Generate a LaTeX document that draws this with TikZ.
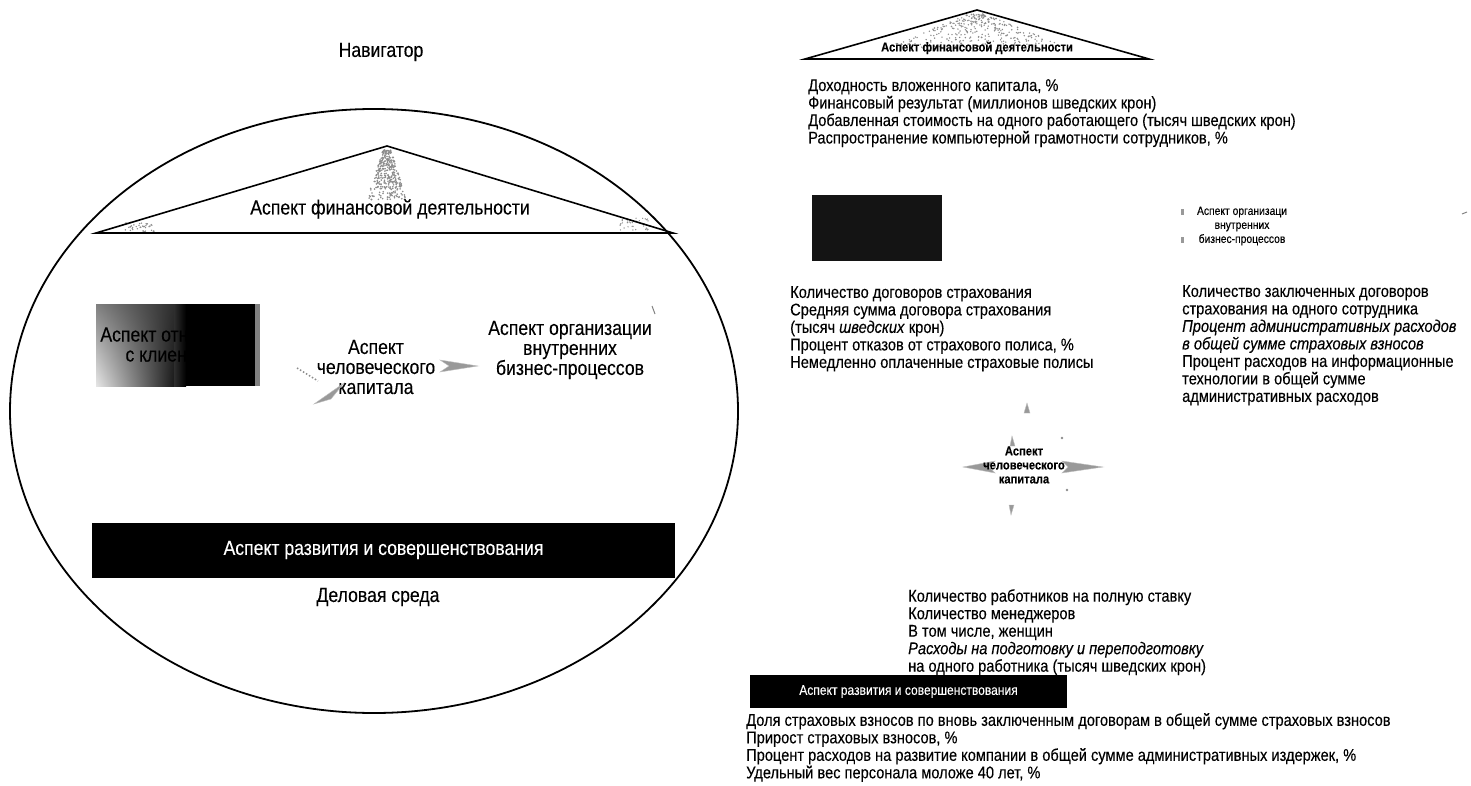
\documentclass[tikz,border=0pt]{standalone}
\usepackage{fontspec}
\usetikzlibrary{shadings}
\setmainfont{Liberation Sans}[FakeStretch=0.86, FakeBold=0.2]
\begin{document}
\begin{tikzpicture}[x=1pt,y=-1pt,
  txt/.style={font=\fontsize{17}{17.5}\selectfont, align=left, inner sep=0, anchor=north west},
  big/.style={font=\fontsize{20.5}{20}\selectfont, align=center, inner sep=0},
  small/.style={font=\fontsize{14}{14}\selectfont, align=center, inner sep=0},
  outline/.style={line width=1.6pt, line join=miter},
  speck/.style={fill=black!45},
  ghostarrow/.style={fill=black!40, draw=black!25, line width=0.4pt}]
\useasboundingbox (0,0) rectangle (1471,786);

% ---------------- left: the navigator scheme ----------------
\node[big] (nav) at (381,52) {Навигатор};
\draw[line width=1.8pt] (374,411) ellipse [x radius=364, y radius=302];

% roof: financial aspect
\pgfmathsetseed{11}
\foreach \k in {1,...,340}{
  \pgfmathsetmacro\t{rnd}
  \fill[speck] ({387+rand*(4+16*\t)},{150+50*\t}) circle (0.9);
}
\foreach \k in {1,...,40}{
  \fill[speck] ({125+30*rnd},{222+10*rnd}) circle (0.8);
  \fill[speck] ({620+30*rnd},{218+12*rnd}) circle (0.7);
}
\draw[outline] (96,233) -- (387,146) -- (673,233) -- cycle;
\node[big] (fin) at (390,209) {Аспект финансовой деятельности};

% customer aspect box, shaded from grey into black
\shade[upper left=black!50, lower left=black!10, upper right=black!82, lower right=black!90] (96,304) rectangle (174,386);
\shade[left color=black!82, right color=black] (174,304) rectangle (186,386);
\fill[black] (186,304) rectangle (255,386);
\fill[black!50] (255,304) rectangle (260,386);
\node[big, text=black] (cli) at (176,344) {Аспект отношений\\с клиентами};

% human capital aspect with its arrows
\node[big] (hum) at (376,367) {Аспект\\человеческого\\капитала};
\fill[ghostarrow] (314,404) -- (344,383) -- (331,399) -- cycle;
\draw[black!45, line width=1.5pt, dotted] (297,368) -- (318,381);
\fill[ghostarrow] (440,360) -- (478,366) -- (440,372) -- (449,366) -- cycle;
\draw[black!50, line width=1pt] (652,306) -- (655,314);

% internal processes aspect
\node[big] (org) at (570,350) {Аспект организации\\внутренних\\бизнес-процессов};

% development aspect bar
\node[big, fill=black, text=white, minimum width=583, minimum height=55] (dev) at (383.5,550) {Аспект развития и совершенствования};
\node[big] (env) at (378,597) {Деловая среда};

% ---------------- right: the indicators ----------------
\pgfmathsetseed{5}
\foreach \k in {1,...,320}{
  \pgfmathsetmacro\t{rnd}
  \fill[speck] ({977+rand*(8+85*\t)},{14+34*\t}) circle (0.8);
}
\draw[outline] (805,59) -- (977,10) -- (1149,59) -- cycle;
\node[small, font=\fontsize{13}{14}\selectfont\bfseries] (fin2) at (977,48) {Аспект финансовой деятельности};

\node[txt] (finlist) at (808,79) {Доходность вложенного капитала, \%\\
Финансовый результат (миллионов шведских крон)\\
Добавленная стоимость на одного работающего (тысяч шведских крон)\\
Распространение компьютерной грамотности сотрудников, \%};

\fill[black!92] (812,195) rectangle (942,261);
\node[txt] (clilist) at (790,286) {Количество договоров страхования\\
Средняя сумма договора страхования\\
(тысяч \textit{шведских} крон)\\
Процент отказов от страхового полиса, \%\\
Немедленно оплаченные страховые полисы};

\node[small, font=\fontsize{12}{14}\selectfont] (org2) at (1242,226) {Аспект организаци\\внутренних\\бизнес-процессов};
\fill[black!40] (1181,209) rectangle (1184,215);
\fill[black!40] (1181,237) rectangle (1184,243);
\draw[black!50, line width=1pt] (1462,214) -- (1467,212);
\node[txt] (orglist) at (1182,285) {Количество заключенных договоров\\
страхования на одного сотрудника\\
\textit{Процент административных расходов}\\
\textit{в общей сумме страховых взносов}\\
Процент расходов на информационные\\
технологии в общей сумме\\
административных расходов};

% human capital star
\fill[ghostarrow] (963,467) -- (995,461) -- (989,467) -- (995,473) -- cycle;
\fill[ghostarrow] (1103,467) -- (1062,461) -- (1068,467) -- (1062,473) -- cycle;
\node[small, font=\fontsize{13}{14}\selectfont\bfseries] (hum2) at (1024,465) {Аспект\\человеческого\\капитала};
\fill[ghostarrow] (1027,403) -- (1030,413) -- (1024,413) -- cycle;
\fill[ghostarrow] (1012,436) -- (1015,446) -- (1010,446) -- cycle;
\fill[ghostarrow] (1011,515) -- (1014,505) -- (1009,505) -- cycle;
\fill[black!45] (1062,438) circle (1.3);
\fill[black!45] (1067,490) circle (1.3);

\node[txt] (humlist) at (908,589) {Количество работников на полную ставку\\
Количество менеджеров\\
В том числе, женщин\\
\textit{Расходы на подготовку и переподготовку}\\
на одного работника (тысяч шведских крон)};

\node[small, fill=black, text=white, minimum width=317, minimum height=33] (dev2) at (908.5,691.5) {Аспект развития и совершенствования};
\node[txt] (devlist) at (746,713) {Доля страховых взносов по вновь заключенным договорам в общей сумме страховых взносов\\
Прирост страховых взносов, \%\\
Процент расходов на развитие компании в общей сумме административных издержек, \%\\
Удельный вес персонала моложе 40 лет, \%};
\end{tikzpicture}
\end{document}
